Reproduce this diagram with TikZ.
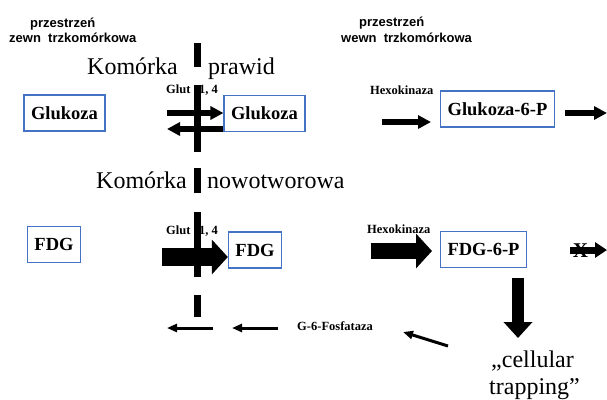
\documentclass[tikz,border=0pt]{standalone}
\usepackage{fontspec}
\setmainfont{Liberation Serif}
\newfontfamily\arialfont{Liberation Sans}
\usetikzlibrary{arrows.meta}
\definecolor{ramka}{HTML}{4472C4}
\tikzset{
  box/.style={draw=ramka, line width=1.3pt, font=\fontsize{18.5}{20}\selectfont\bfseries, inner xsep=7pt, minimum height=36pt},
  celltxt/.style={font=\fontsize{24}{27}\selectfont, inner sep=0pt, anchor=base west},
  spacetxt/.style={font=\arialfont\bfseries\fontsize{13}{16}\selectfont, inner sep=0pt, anchor=base west},
  enztxt/.style={font=\fontsize{12.5}{14}\selectfont\bfseries, inner sep=0pt, anchor=base west},
  membr/.style={line width=7pt},
  thinarr/.style={line width=3pt, -{Triangle[length=10pt,width=8pt]}},
  midarr/.style={line width=5.5pt, -{Triangle[length=13pt,width=13pt]}},
  fatarr/.style={line width=18pt, -{Triangle[length=16pt,width=34pt]}},
}
\begin{document}
\begin{tikzpicture}[x=1pt,y=-1pt]
			\useasboundingbox (0,0) rectangle (607,399);

			% Spaces
			\node[spacetxt] (zewn1) at (30,27) {przestrzeń};
			\node[spacetxt] (zewn2) at (9,42) {zewn\ \ trzkomórkowa};
			\node[spacetxt] (wewn1) at (359,26) {przestrzeń};
			\node[spacetxt] (wewn2) at (341,42) {wewn\ \ trzkomórkowa};

			% Cell labels
			\node[celltxt] (kom1) at (87,74) {Komórka};
			\node[celltxt] (prawid) at (208,74) {prawid};
			\node[celltxt] (kom2) at (96,188) {Komórka};
			\node[celltxt] (nowotw) at (207,188) {nowotworowa};

			% Enzyme labels
			\node[enztxt] (glut1) at (166,93) {Glut\hspace{8.5pt}1, 4};
			\node[enztxt] (glut2) at (166,234) {Glut\hspace{8.5pt}1, 4};
			\node[enztxt] (hexo1) at (370,94) {Hexokinaza};
			\node[enztxt] (hexo2) at (367,233) {Hexokinaza};
			\node[enztxt] (fosf) at (297,330) {G-6-Fosfataza};

			% Boxes
			\node[box] (gluL) at (64.5,113) {Glukoza};
			\node[box] (gluM) at (264.5,113.5) {Glukoza};
			\node[box] (glu6P) at (497.5,109) {Glukoza-6-P};
			\node[box] (fdgL) at (54,244.5) {FDG};
			\node[box] (fdgM) at (255,250) {FDG};
			\node[box] (fdg6P) at (483.5,249.5) {FDG-6-P};

			% Membrane
			\foreach \a/\b in {43/67, 85/152, 168/193, 212/277, 295/317}
				\draw[membr] (197,\a) -- (197,\b);

			% Glut, healthy cell
			\coordinate (gin) at (167,113);
			\coordinate (gout) at (167,129);
			\draw[midarr] (gin) -- (gluM.west |- gin);
			\draw[midarr] (gluM.west |- gout) -- (gout);

			% Hexokinase, healthy cell
			\coordinate (hx1a) at (382,122);
			\coordinate (hx1b) at (431,122);
			\draw[midarr] (hx1a) -- (hx1b);
			\coordinate (dal1a) at (565,113);
			\coordinate (dal1b) at (607,113);
			\draw[midarr] (dal1a) -- (dal1b);

			% Glut, tumour cell
			\coordinate (fin) at (162,257);
			\draw[fatarr] (fin) -- (fdgM.west |- fin);

			% Hexokinase, tumour cell
			\coordinate (hx2a) at (371,251);
			\coordinate (hx2b) at (432,251);
			\draw[fatarr,line width=16pt] (hx2a) -- (hx2b);

			% Blocked path
			\coordinate (blka) at (570,250);
			\coordinate (blkb) at (607,250);
			\draw[line width=7pt,-{Triangle[length=12pt,width=15pt]}] (blka) -- (blkb);
			\node[font=\fontsize{21}{21}\selectfont\bfseries, inner sep=0pt] (blkx) at (580.5,250.5) {X};

			% Trapping
			\coordinate (trapa) at (518,278);
			\coordinate (trapb) at (518,338);
			\draw[line width=12pt,-{Triangle[length=16pt,width=28pt]}] (trapa) -- (trapb);
			\node[celltxt] (trap1) at (491,367) {„cellular};
			\node[celltxt] (trap2) at (489,394) {trapping”};

			% Phosphatase, way back
			\coordinate (ph1a) at (448,346);
			\coordinate (ph1b) at (403,332);
			\draw[thinarr] (ph1a) -- (ph1b);
			\coordinate (ph2a) at (278,328);
			\coordinate (ph2b) at (232,328);
			\draw[thinarr] (ph2a) -- (ph2b);
			\coordinate (ph3a) at (213,328);
			\coordinate (ph3b) at (167,328);
			\draw[thinarr] (ph3a) -- (ph3b);
		\end{tikzpicture}
\end{document}
